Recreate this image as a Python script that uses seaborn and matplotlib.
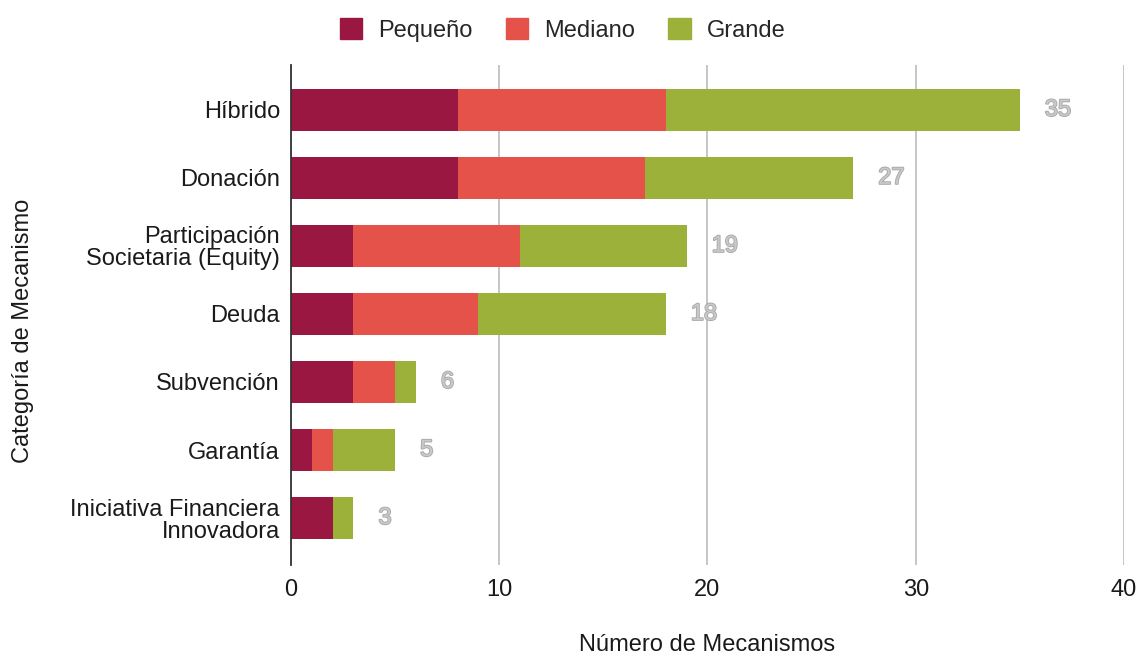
import matplotlib
matplotlib.use("Agg")
import matplotlib.pyplot as plt
import matplotlib.patheffects as pe
import numpy as np
import pandas as pd
import seaborn as sns

categorias = ["Híbrido", "Donación", "Participación\nSocietaria (Equity)", "Deuda",
              "Subvención", "Garantía", "Iniciativa Financiera\nInnovadora"]
pequeno = [8, 8, 3, 3, 3, 1, 2]
mediano = [10, 9, 8, 6, 2, 1, 0]
grande = [17, 10, 8, 9, 1, 3, 1]
series = ["Pequeño", "Mediano", "Grande"]
colores = ["#9A1742", "#E4524A", "#9BB13A"]
ticks_x = [0, 10, 20, 30, 40]

sns.set_theme(style="white")
plt.rcParams["font.family"] = ["Liberation Sans", "DejaVu Sans"]

df = pd.DataFrame({"categoria": categorias, "Pequeño": pequeno,
                   "Mediano": mediano, "Grande": grande})
df["c1"] = df["Pequeño"]
df["c2"] = df["Pequeño"] + df["Mediano"]
df["c3"] = df["c2"] + df["Grande"]

fig = plt.figure(figsize=(11.39, 6.55), dpi=100)
ax = fig.add_axes([0.2555, 0.1374, 0.7313, 0.7634])

# stacked bars: draw cumulative totals from the widest layer down
for col, color in zip(["c3", "c2", "c1"], colores[::-1]):
    sns.barplot(data=df, x=col, y="categoria", color=color, orient="h",
                width=0.62, ax=ax, saturation=1, edgecolor="none")

ax.set_xlim(0, 40)
ax.set_ylim(6.69, -0.66)
ax.set_xticks(ticks_x)
ax.xaxis.grid(True, color="#B5B5B5", linewidth=1.1)
ax.set_axisbelow(True)
for s in ["top", "right", "bottom"]:
    ax.spines[s].set_visible(False)
ax.spines["left"].set_color("#333333")
ax.spines["left"].set_linewidth(1.3)
ax.tick_params(axis="y", length=0, labelsize=17, colors="#1a1a1a", pad=8)
ax.tick_params(axis="x", length=0, labelsize=17, colors="#1a1a1a", pad=10)
for lbl in ax.get_yticklabels():
    lbl.set_linespacing(1.0)
ax.set_xlabel("Número de Mecanismos", fontsize=17, color="#1a1a1a")
ax.set_ylabel("Categoría de Mecanismo", fontsize=17, color="#1a1a1a")
ax.xaxis.set_label_coords(0.5, -0.138)
ax.yaxis.set_label_coords(-0.309, 0.468)

for i, total in enumerate(df["c3"]):
    ax.annotate(f"{total}", xy=(total, i), xytext=(18, 0), textcoords="offset points",
                ha="left", va="center", fontsize=17, color="#C9C9C9",
                path_effects=[pe.withStroke(linewidth=1.3, foreground="#A8A8A8")])

handles = [plt.Rectangle((0, 0), 1, 1, color=c) for c in colores]
fig.legend(handles, series, loc="center", bbox_to_anchor=(0.494, 0.954), ncol=3,
           frameon=False, fontsize=17, handlelength=0.95, handleheight=0.95,
           columnspacing=1.4, handletextpad=0.68)

fig.savefig("out.png", dpi=100)
